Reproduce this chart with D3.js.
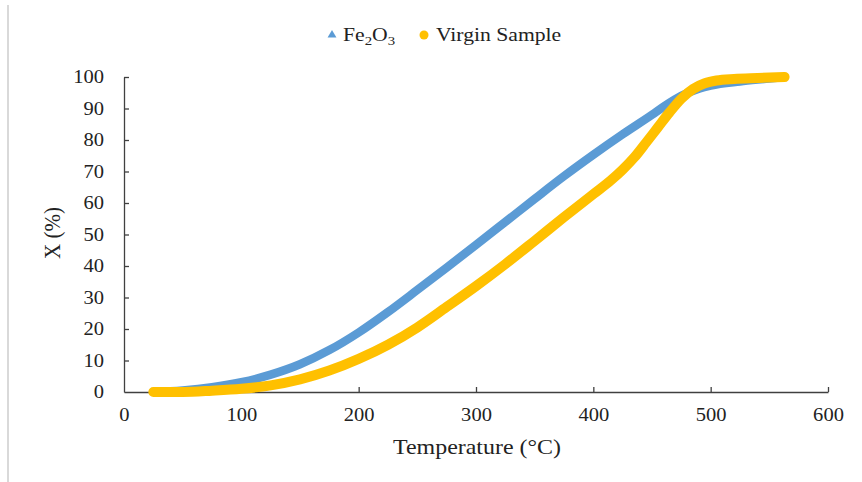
<!DOCTYPE html>
<html>
<head>
<meta charset="utf-8">
<script src="https://cdn.jsdelivr.net/npm/d3@7"></script>
<style>
  html, body { margin: 0; padding: 0; background: #fff; }
  svg { display: block; }
  text { font-family: "Liberation Serif", "Times New Roman", serif; fill: #222; }
</style>
</head>
<body>
<svg id="chart" width="862" height="482"></svg>
<script>
// ---- data ----
const fe2o3Temp = [25, 50, 75, 100, 125, 150, 175, 200, 225, 250, 275, 300, 325, 350, 375, 400, 425, 450, 460, 475, 490, 500, 525, 550, 563];
const fe2o3X    = [0, 0.5, 1.5, 3.1, 5.5, 8.8, 13.3, 18.9, 25.4, 32.4, 39.5, 46.7, 54, 61.3, 68.5, 75.3, 81.8, 88, 90.6, 94, 96.3, 97.3, 98.6, 99.5, 100];

const virginTemp = [25, 50, 75, 100, 125, 150, 175, 200, 225, 250, 275, 300, 325, 350, 375, 400, 415, 425, 435, 445, 455, 465, 475, 485, 495, 505, 520, 540, 563];
const virginX    = [0, 0, 0.4, 1, 2.1, 4, 6.8, 10.5, 15, 20.5, 27, 33.6, 40.6, 48, 55.5, 62.8, 67.2, 70.6, 74.5, 79.2, 84, 88.8, 93.1, 96.2, 98, 98.9, 99.4, 99.7, 100];

const xTicks = [0, 100, 200, 300, 400, 500, 600];
const yTicks = [0, 10, 20, 30, 40, 50, 60, 70, 80, 90, 100];

const seriesNames = ["Fe2O3", "Virgin Sample"];
const xTitle = "Temperature (°C)";
const yTitle = "X (%)";

// ---- layout ----
const svg = d3.select("#chart");
const x = d3.scaleLinear().domain([0, 600]).range([124, 828]);
const y = d3.scaleLinear().domain([0, 100]).range([392, 77]);
const sx = 1.14; // horizontal text stretch seen in the reference

// faint left border
svg.append("line").attr("x1", 8).attr("x2", 8).attr("y1", 5).attr("y2", 482)
  .attr("stroke", "#d9d9d9").attr("stroke-width", 2);

// axes
const axisColor = "#404040";
const xAxis = svg.append("g").attr("transform", `translate(0,${y(0)})`)
  .call(d3.axisBottom(x).tickValues(xTicks).tickSizeInner(-5).tickSizeOuter(0).tickPadding(16).tickFormat(d3.format("d")));
const yAxis = svg.append("g").attr("transform", `translate(${x(0)},0)`)
  .call(d3.axisLeft(y).tickValues(yTicks).tickSizeInner(-5).tickSizeOuter(0).tickPadding(20 / sx).tickFormat(d3.format("d")));
[xAxis, yAxis].forEach(g => {
  g.select(".domain").attr("stroke", axisColor).attr("stroke-width", 1.3);
  g.selectAll(".tick line").attr("stroke", axisColor).attr("stroke-width", 1.3);
  g.selectAll(".tick text").style("font-family", "'Liberation Serif', 'Times New Roman', serif")
    .style("font-size", "18px").attr("fill", "#222").attr("transform", `scale(${sx},1)`);
});
xAxis.selectAll(".tick line").filter(d => d === 0).remove();
yAxis.selectAll(".tick line").filter(d => d === 0).remove();

// titles
svg.append("text").attr("transform", `translate(477,454) scale(${sx},1)`).attr("text-anchor", "middle")
  .style("font-size", "21px").text(xTitle);
svg.append("text").attr("transform", `translate(60,233) scale(${sx},1) rotate(-90)`).attr("text-anchor", "middle")
  .style("font-size", "21px").text(yTitle);

// series
const line = d3.line().x(d => x(d[0])).y(d => y(d[1])).curve(d3.curveMonotoneX);
const feData = fe2o3Temp.map((t, i) => [t, fe2o3X[i]]);
const viData = virginTemp.map((t, i) => [t, virginX[i]]);

svg.append("path").datum(feData).attr("d", line).attr("fill", "none")
  .attr("stroke", "#5B9BD5").attr("stroke-width", 8.5)
  .attr("stroke-linecap", "round").attr("stroke-linejoin", "round");
svg.append("path").datum(viData).attr("d", line).attr("fill", "none")
  .attr("stroke", "#FFC000").attr("stroke-width", 10)
  .attr("stroke-linecap", "round").attr("stroke-linejoin", "round");

// legend
const tri = d3.symbol().type(d3.symbolTriangle).size(34);
svg.append("path").attr("d", tri).attr("transform", "translate(332,35)").attr("fill", "#5B9BD5");
const t1 = svg.append("text").attr("transform", `translate(343,41) scale(${sx},1)`).style("font-size", "19px");
t1.append("tspan").text("Fe");
t1.append("tspan").attr("dy", 4).style("font-size", "13px").text("2");
t1.append("tspan").attr("dy", -4).text("O");
t1.append("tspan").attr("dy", 4).style("font-size", "13px").text("3");

svg.append("circle").attr("cx", 424).attr("cy", 35).attr("r", 4.5).attr("fill", "#FFC000");
svg.append("text").attr("transform", `translate(436,41) scale(${sx},1)`).style("font-size", "19px").text(seriesNames[1]);
</script>
</body>
</html>
